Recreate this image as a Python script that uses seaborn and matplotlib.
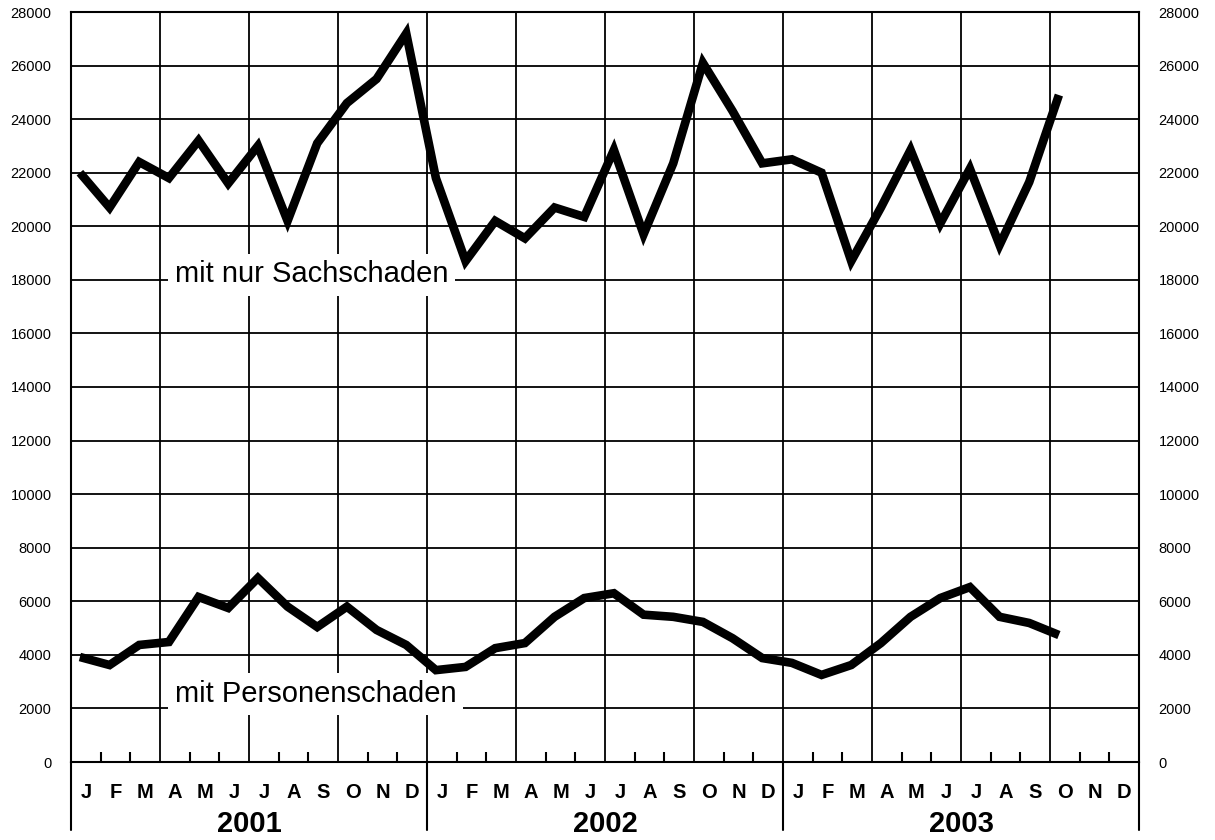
import numpy as np
import pandas as pd
import matplotlib
matplotlib.use("Agg")
import matplotlib.pyplot as plt
import matplotlib.transforms as mtrans
import seaborn as sns

# ---- data ----
month_letters = ["J", "F", "M", "A", "M", "J", "J", "A", "S", "O", "N", "D"]
years = ["2001", "2002", "2003"]
sach = [22000, 20700, 22400, 21800, 23200, 21600, 23000, 20200, 23100, 24600, 25500, 27200,
        21800, 18700, 20200, 19550, 20700, 20350, 22850, 19700, 22350, 26100, 24300, 22350,
        22500, 22000, 18700, 20700, 22850, 20100, 22150, 19300, 21650, 24900]
pers = [3920, 3620, 4370, 4480, 6160, 5750, 6870, 5800, 5040, 5800, 4930, 4370,
        3430, 3550, 4250, 4440, 5420, 6120, 6300, 5500, 5420, 5230, 4620, 3880,
        3700, 3250, 3620, 4440, 5420, 6120, 6530, 5420, 5190, 4740]
yticks = list(range(0, 28001, 2000))
label_sach = "mit nur Sachschaden"
label_pers = "mit Personenschaden"

n_months = len(years) * 12
x_idx = np.arange(len(sach)) + 0.3
df = pd.DataFrame({
    "x": np.concatenate([x_idx, x_idx]),
    "value": sach + pers,
    "series": [label_sach] * len(sach) + [label_pers] * len(pers),
})

sns.set_style("white")
plt.rcParams["font.family"] = ["Liberation Sans", "DejaVu Sans"]
plt.rcParams["text.color"] = "black"
plt.rcParams["xtick.color"] = "black"
plt.rcParams["ytick.color"] = "black"
plt.rcParams["axes.labelcolor"] = "black"

fig = plt.figure(figsize=(12.15, 8.4), dpi=100)
ax = fig.add_axes([71 / 1215, 78 / 840, 1068 / 1215, 750 / 840])

sns.lineplot(data=df, x="x", y="value", hue="series", palette=["black", "black"],
             linewidth=6.2, legend=False, ax=ax, zorder=5,
             solid_joinstyle="miter", solid_capstyle="butt")

ax.set_xlim(0, n_months)
ax.set_ylim(0, 28000)
ax.set_xlabel("")
ax.set_ylabel("")

# grid: horizontal every 2000, vertical every quarter
ax.set_yticks(yticks)
ax.set_yticklabels([str(v) for v in yticks])
ax.set_xticks(np.arange(0, n_months + 1, 3))
ax.set_xticklabels([])
ax.grid(True, color="black", linewidth=1.3, zorder=1)
ax.set_axisbelow(True)
ax.set_xticks([m for m in range(n_months + 1) if m % 3 != 0], minor=True)
ax.tick_params(axis="x", which="major", length=0)
ax.tick_params(axis="x", which="minor", direction="in", length=7, width=1.5,
               color="black", bottom=True, top=False)
ax.tick_params(axis="y", which="major", length=0, labelsize=10.5, pad=14,
               labelleft=True, labelright=True, labelcolor="black")
for sp in ax.spines.values():
    sp.set_color("black")
    sp.set_linewidth(1.5)
    sp.set_visible(True)

# month and year labels
trans = mtrans.blended_transform_factory(ax.transData, ax.transAxes)
for y_i in range(len(years)):
    for m_i, ml in enumerate(month_letters):
        ax.text(y_i * 12 + m_i + 0.5, -0.04, ml, transform=trans, ha="center", va="center",
                fontsize=14.5, fontweight="bold", color="black", clip_on=False)
    ax.text(y_i * 12 + 6, -0.082, years[y_i], transform=trans, ha="center", va="center",
            fontsize=21, fontweight="bold", color="black", clip_on=False)
for b in range(len(years) + 1):
    ax.plot([b * 12, b * 12], [0, -0.09], transform=trans, color="black",
            linewidth=1.5, clip_on=False)

# series labels
box = dict(facecolor="white", edgecolor="none", pad=5)
ax.text(3.5, 18200, label_sach, fontsize=21, ha="left", va="center", color="black",
        bbox=box, zorder=4)
ax.text(3.5, 2550, label_pers, fontsize=21, ha="left", va="center", color="black",
        bbox=box, zorder=4)

fig.savefig("out.png", dpi=100)
